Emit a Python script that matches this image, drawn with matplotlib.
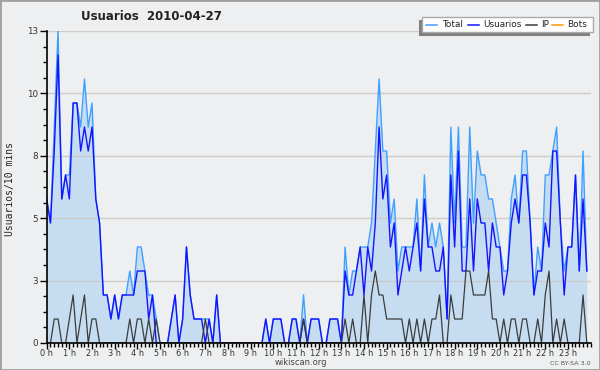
import numpy as np
import matplotlib
matplotlib.use('Agg')
import matplotlib.pyplot as plt
from matplotlib.patches import Rectangle
from matplotlib.lines import Line2D

# 10-minute slots (144 per day)
usuarios = [6, 5, 8, 12, 6, 7, 6, 10, 10, 8, 9, 8,
            9, 6, 5, 2, 2, 1, 2, 1, 2, 2, 2, 2,
            3, 3, 3, 1, 2, 0, 0, 0, 0, 1, 2, 0,
            1, 4, 2, 1, 1, 1, 0, 1, 0, 2, 0, 0,
            0, 0, 0, 0, 0, 0, 0, 0, 0, 0, 1, 0,
            1, 1, 1, 0, 0, 1, 1, 0, 1, 0, 1, 1,
            1, 0, 0, 1, 1, 1, 0, 3, 2, 2, 3, 4,
            2, 4, 3, 5, 9, 6, 7, 4, 5, 2, 3, 4,
            3, 4, 5, 3, 6, 4, 4, 3, 3, 4, 1, 7,
            4, 8, 3, 3, 6, 3, 6, 5, 5, 3, 5, 4,
            4, 2, 3, 5, 6, 5, 7, 7, 5, 2, 3, 3,
            5, 4, 8, 8, 5, 2, 4, 4, 7, 3, 6, 3]

ip = [0, 0, 1, 1, 0, 0, 1, 2, 0, 1, 2, 0,
      1, 1, 0, 0, 0, 0, 0, 0, 0, 0, 1, 0,
      1, 1, 0, 1, 0, 1, 0, 0, 0, 0, 0, 0,
      0, 0, 0, 0, 0, 0, 1, 0, 0, 0, 0, 0,
      0, 0, 0, 0, 0, 0, 0, 0, 0, 0, 0, 0,
      0, 0, 0, 0, 0, 0, 0, 0, 1, 0, 0, 0,
      0, 0, 0, 0, 0, 0, 0, 1, 0, 1, 0, 0,
      2, 0, 2, 3, 2, 2, 1, 1, 1, 1, 1, 0,
      1, 0, 1, 0, 1, 0, 1, 1, 2, 0, 0, 2,
      1, 1, 1, 3, 3, 2, 2, 2, 2, 3, 1, 1,
      0, 1, 0, 1, 1, 0, 1, 1, 0, 0, 1, 0,
      2, 3, 0, 1, 0, 1, 0, 0, 0, 0, 2, 0]

total = [6, 5, 9, 13, 6, 7, 7, 10, 10, 9, 11, 9,
         10, 6, 5, 2, 2, 1, 2, 1, 2, 2, 3, 2,
         4, 4, 3, 2, 2, 1, 0, 0, 0, 1, 2, 0,
         1, 4, 2, 1, 1, 1, 1, 1, 0, 2, 0, 0,
         0, 0, 0, 0, 0, 0, 0, 0, 0, 0, 1, 0,
         1, 1, 1, 0, 0, 1, 1, 0, 2, 0, 1, 1,
         1, 0, 0, 1, 1, 1, 0, 4, 2, 3, 3, 4,
         4, 4, 5, 8, 11, 8, 8, 5, 6, 3, 4, 4,
         4, 4, 6, 3, 7, 4, 5, 4, 5, 4, 1, 9,
         5, 9, 4, 4, 9, 5, 8, 7, 7, 6, 6, 5,
         4, 3, 3, 6, 7, 5, 8, 8, 5, 2, 4, 3,
         7, 7, 8, 9, 5, 3, 4, 4, 7, 3, 8, 3]

bots = [0, 0, 0, 0, 0, 0, 0, 0, 0, 0, 0, 0,
        0, 0, 0, 0, 0, 0, 0, 0, 0, 0, 0, 0,
        0, 0, 0, 0, 0, 0, 0, 0, 0, 0, 0, 0,
        0, 0, 0, 0, 0, 0, 0, 0, 0, 0, 0, 0,
        0, 0, 0, 0, 0, 0, 0, 0, 0, 0, 0, 0,
        0, 0, 0, 0, 0, 0, 0, 0, 0, 0, 0, 0,
        0, 0, 0, 0, 0, 0, 0, 0, 0, 0, 0, 0,
        0, 0, 0, 0, 0, 0, 0, 0, 0, 0, 0, 0,
        0, 0, 0, 0, 0, 0, 0, 0, 0, 0, 0, 0,
        0, 0, 0, 0, 0, 0, 0, 0, 0, 0, 0, 0,
        0, 0, 0, 0, 0, 0, 0, 0, 0, 0, 0, 0,
        0, 0, 0, 0, 0, 0, 0, 0, 0, 0, 0, 0]

hour_labels = ["0 h", "1 h", "2 h", "3 h", "4 h", "5 h", "6 h", "7 h",
               "8 h", "9 h", "10 h", "11 h", "12 h", "13 h", "14 h", "15 h",
               "16 h", "17 h", "18 h", "19 h", "20 h", "21 h", "22 h", "23 h"]
y_ticks = [0, 2.6, 5.2, 7.8, 10.4, 13]
y_labels = ["0", "3", "5", "8", "10", "13"]
legend_names = ["Total", "Usuarios", "IP", "Bots"]

C_TOTAL = '#40a0ff'
C_FILL = '#c6ddf1'
C_USR = '#1414ff'
C_IP = '#3c3c3c'
C_BOTS = '#ff9900'
BG = '#eeeff0'

W, H = 600, 370
fig = plt.figure(figsize=(6, 3.7), dpi=100, facecolor=BG)

def fx(px):
    return px / W

def fy(py):
    return 1 - py / H

x0, x1, ytop, ybot = 46.7, 590.6, 31, 343
ax = fig.add_axes([fx(x0), fy(ybot), fx(x1) - fx(x0), fy(ytop) - fy(ybot)])
ax.set_facecolor(BG)

x = np.arange(len(total))
ax.fill_between(x, 0, total, color=C_FILL, lw=0, zorder=0.3)
ax.plot(x, bots, color=C_BOTS, lw=1.0, zorder=1.0)
ax.plot(x, total, color=C_TOTAL, lw=1.0, zorder=2.0)
ax.plot(x, usuarios, color=C_USR, lw=1.0, zorder=2.1)
ax.plot(x, ip, color=C_IP, lw=0.9, zorder=2.2)

ax.set_xlim(0, 144)
ax.set_ylim(0, 13)

ax.set_axisbelow(True)
ax.yaxis.grid(True, color='#cccccc', lw=1.0)
ax.xaxis.grid(False)

ax.set_yticks(y_ticks)
ax.set_yticklabels(y_labels)
ax.set_yticks(np.arange(0, 13.01, 0.65), minor=True)
ax.set_xticks(np.arange(0, 144, 6))
ax.set_xticklabels(hour_labels)
ax.set_xticks(np.arange(0, 145, 1), minor=True)

ax.tick_params(axis='y', which='major', length=5, width=1, labelsize=6.3,
               colors='black', labelcolor='#333333', pad=1)
ax.tick_params(axis='y', which='minor', length=3, width=1, colors='black')
ax.tick_params(axis='x', which='major', length=4, width=1, labelsize=5.9,
               labelcolor='#333333', pad=0.5)
ax.tick_params(axis='x', which='minor', length=3, width=1)

for s in ['top', 'right']:
    ax.spines[s].set_visible(False)
for s in ['left', 'bottom']:
    ax.spines[s].set_linewidth(1.2)
    ax.spines[s].set_color('black')
    ax.spines[s].set_zorder(3)

# y-axis label
fig.text(fx(10), fy(189), "Usuarios/10 mins", rotation=90, ha='center', va='center',
         fontsize=7, family='DejaVu Sans Mono', color='#222222')

# title
fig.text(fx(151), fy(16), "Usuarios  2010-04-27", ha='center', va='center',
         fontsize=8.5, fontweight='bold', color='#222222')

# footer
fig.text(fx(301), fy(362.5), "wikiscan.org", ha='center', va='center',
         fontsize=6, color='#444444')
fig.text(fx(570), fy(363.5), "CC BY-SA 3.0", ha='center', va='center',
         fontsize=4.6, color='#555555')

# legend (manual): shadow, box, entries
fig.patches.append(Rectangle((fx(419), fy(36)), fx(171), fy(20) - fy(36),
                             transform=fig.transFigure, facecolor='#808080',
                             edgecolor='none', zorder=5))
fig.patches.append(Rectangle((fx(422), fy(32)), fx(171), fy(17) - fy(32),
                             transform=fig.transFigure, facecolor='white',
                             edgecolor='#aaaaaa', lw=1, zorder=6))
leg_colors = [C_TOTAL, C_USR, C_IP, C_BOTS]
leg_line_x = [426, 468, 526, 552]
leg_text_x = [442, 483, 541, 567]
for name, col, lx, tx in zip(legend_names, leg_colors, leg_line_x, leg_text_x):
    fig.add_artist(Line2D([fx(lx), fx(lx + 11)], [fy(24.5), fy(24.5)],
                          transform=fig.transFigure, color=col, lw=1.1, zorder=7))
    fig.text(fx(tx), fy(24.5), name, ha='left', va='center', fontsize=6.4,
             color='#222222', zorder=7)

# outer frame
fig.patches.append(Rectangle((0, 0), 1, 1, transform=fig.transFigure,
                             facecolor='none', edgecolor='#a0a0a0', lw=2, zorder=10))

fig.savefig('out.png', dpi=100, facecolor=BG)
